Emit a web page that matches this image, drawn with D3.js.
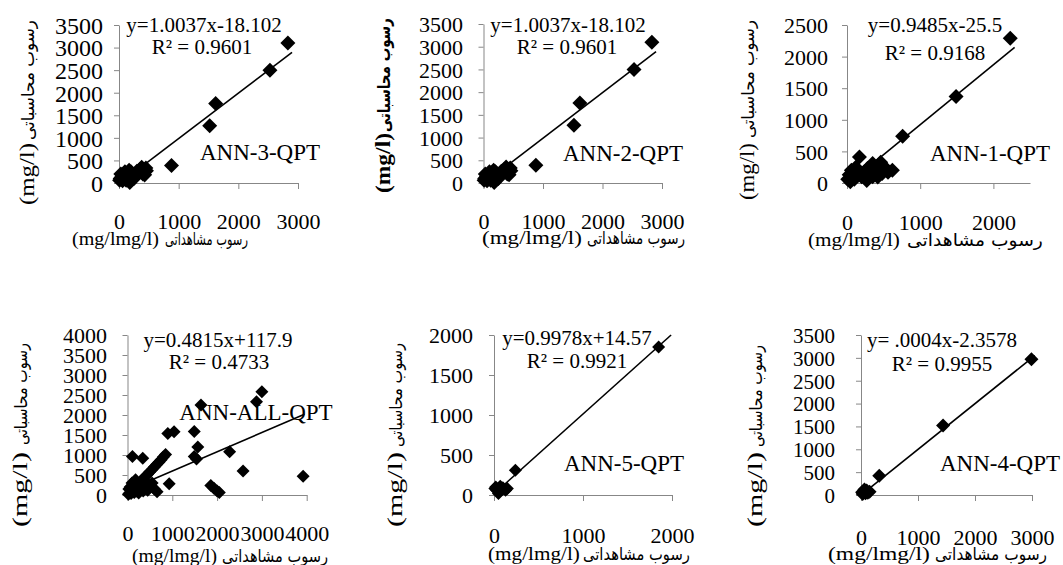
<!DOCTYPE html>
<html><head><meta charset="utf-8">
<script src="https://cdn.jsdelivr.net/npm/d3@7"></script>
<style>
body{margin:0;background:#fff;}
svg{display:block;}
text{font-family:"Liberation Serif","Times New Roman","DejaVu Sans",serif;fill:#000;}
.ar{font-family:"DejaVu Sans",sans-serif;}
</style></head><body>
<svg id="c" width="1063" height="565"></svg>
<script>
// ---------- data ----------
const panelNames = ["ANN-3-QPT","ANN-2-QPT","ANN-1-QPT","ANN-ALL-QPT","ANN-5-QPT","ANN-4-QPT"];
const equationLabels = ["y=1.0037x-18.102","y=1.0037x-18.102","y=0.9485x-25.5","y=0.4815x+117.9","y=0.9978x+14.57","y= .0004x-2.3578"];
const r2Labels = ["R² = 0.9601","R² = 0.9601","R² = 0.9168","R² = 0.4733","R² = 0.9921","R² = 0.9955"];
const slopes = [1.0037,1.0037,0.9485,0.4815,0.9978,1.0004];
const intercepts = [-18.102,-18.102,-25.5,117.9,14.57,-2.3578];
const trendFrom = [0,0,0,0,0,0];
const trendTo = [2900,2900,2290,3950,1990,3050];
const xMaxima = [3000,3000,2500,4000,2000,3000];
const yMaxima = [3500,3500,2500,4000,2000,3500];
const xTickValues = [[0,1000,2000,3000],[0,1000,2000,3000],[0,1000,2000],[0,1000,2000,3000,4000],[0,1000,2000],[0,1000,2000,3000]];
const yTickValues = [
  [0,500,1000,1500,2000,2500,3000,3500],
  [0,500,1000,1500,2000,2500,3000,3500],
  [0,500,1000,1500,2000,2500],
  [0,500,1000,1500,2000,2500,3000,3500,4000],
  [0,500,1000,1500,2000],
  [0,500,1000,1500,2000,2500,3000,3500]];
const xTitleUnit = "(mg/lmg/l)";
const xTitleWords = "رسوب مشاهداتی";
const yTitleUnit = "(mg/l)";
const yTitleWords = "رسوب محاسباتی";

// observed (x) and computed (y) sediment values
const ann3Observed = [2830,2530,1620,1520,880,420,450,380,350,400,460,430,20,50,80,100,150,200,120,180,250,60,30,200,100,300,320,170,10];
const ann3Computed = [3100,2500,1760,1270,390,290,330,350,300,200,270,180,100,150,200,250,180,250,60,10,100,50,200,150,120,260,220,280,60];
const ann2Observed = [2830,2530,1620,1520,880,420,450,380,350,400,460,430,20,50,80,100,150,200,120,180,250,60,30,200,100,300,320,170,10];
const ann2Computed = [3100,2500,1760,1270,390,290,330,350,300,200,270,180,100,150,200,250,180,250,60,10,100,50,200,150,120,260,220,280,60];
const ann1Observed = [2230,1490,760,170,350,460,420,620,480,420,270,30,45,150,60,280,350,100,200,520,120,400,10,80,240,560];
const ann1Computed = [2290,1370,740,410,310,330,270,200,150,95,40,130,20,150,200,230,100,60,100,240,250,180,60,110,180,170];
const annAllObserved = [3000,2880,1640,900,1040,1490,1570,1490,1540,2280,2580,3920,1860,1930,2000,2050,930,110,340,
  50,100,150,200,250,300,350,400,450,500,550,600,650,700,750,800,850,
  20,80,150,200,300,400,500,250,350,100,60,450,180,120,30,600,550,660];
const annAllComputed = [2580,2330,2250,1540,1580,1590,1200,960,900,1080,600,470,240,170,100,60,280,960,920,
  50,120,180,230,290,350,400,470,520,580,640,700,760,820,880,950,1010,
  20,40,60,100,150,200,250,50,100,300,200,120,380,250,150,150,300,80];
const ann5Observed = [1850,240,10,30,60,90,130,50,100,20,150,70];
const ann5Computed = [1850,310,80,60,40,70,60,20,90,100,80,110];
const ann4Observed = [2990,1440,320,20,50,80,100,120,60,30,150];
const ann4Computed = [2970,1520,420,60,80,40,100,50,120,20,70];

const observedSets = [ann3Observed,ann2Observed,ann1Observed,annAllObserved,ann5Observed,ann4Observed];
const computedSets = [ann3Computed,ann2Computed,ann1Computed,annAllComputed,ann5Computed,ann4Computed];

// ---------- layout ----------
const layout = [
  {x0:119,x1:298,yT:25,yB:183,yLabR:103,yLabFs:24,xLabY:221,
   xtL:[72,159],xtA:[165,248],xtY:238, ytX:27,ytL:[205,143],ytA:[140,20],bold:false,
   eq:[204,25],r2:[202,47],nm:[260,152],ms:15},
  {x0:483.5,x1:662,yT:24,yB:183,yLabR:463,yLabFs:22,xLabY:221,
   xtL:[482,582],xtA:[587,685],xtY:237, ytX:383,ytL:[193,133],ytA:[132,18],bold:true,
   eq:[568,25],r2:[567,47],nm:[623,153],ms:15},
  {x0:847,x1:1030,yT:25,yB:183,yLabR:828,yLabFs:22,xLabY:222,
   xtL:[808,900],xtA:[907,1043],xtY:239, ytX:747,ytL:[200,143],ytA:[138,20],bold:false,
   eq:[935,25],r2:[935,53],nm:[990,153],ms:15},
  {x0:127.5,x1:306.7,yT:335,yB:495,yLabR:107,yLabFs:22,xLabY:533,
   xtL:[132,217],xtA:[222,328],xtY:555, ytX:20,ytL:[527,452],ytA:[445,343],bold:false,
   eq:[218,340],r2:[219,362],nm:[256,412],ms:13},
  {x0:494,x1:672,yT:335,yB:495,yLabR:473,yLabFs:22,xLabY:535,
   xtL:[488,580],xtA:[583,690],xtY:553, ytX:395,ytL:[527,452],ytA:[447,343],bold:false,
   eq:[577,338],r2:[577,361],nm:[624,463],ms:13},
  {x0:861,x1:1032,yT:335,yB:495,yLabR:835,yLabFs:21,xLabY:537,
   xtL:[828,930],xtA:[935,1047],xtY:553, ytX:755,ytL:[527,452],ytA:[447,345],bold:false,
   eq:[942,340],r2:[942,364],nm:[1000,463],ms:14}
];

const svg = d3.select("#c");
const axisColor = "#878787";

// fit a text element horizontally into a box by scaling x
function fitH(sel, x0, x1, y) {
  const w = sel.node().getComputedTextLength();
  const s = (x1 - x0) / w;
  sel.attr("transform", `translate(${x0},${y}) scale(${s},1)`);
}
function fitV(sel, x, yBottom, yTop) {
  const w = sel.node().getComputedTextLength();
  const s = (yBottom - yTop) / w;
  sel.attr("transform", `translate(${x},${yBottom}) rotate(-90) scale(${s},1)`);
}

layout.forEach((L, i) => {
  const g = svg.append("g");
  const x = d3.scaleLinear().domain([0, xMaxima[i]]).range([L.x0, L.x1]);
  const y = d3.scaleLinear().domain([0, yMaxima[i]]).range([L.yB, L.yT]);
  const fmt = d3.format("d");

  // y axis
  const ya = g.append("g").attr("transform", `translate(${L.x0},0)`)
    .call(d3.axisLeft(y).tickValues(yTickValues[i]).tickFormat(fmt).tickSize(5).tickSizeOuter(0));
  ya.select(".domain").attr("stroke", axisColor);
  ya.selectAll(".tick line").attr("stroke", axisColor);
  ya.selectAll(".tick text").attr("x", L.yLabR - L.x0).attr("dy", "0.35em")
    .attr("text-anchor", "end").style("font-size", L.yLabFs + "px")
    .style("font-family", '"Liberation Serif",serif').attr("fill", "#000");

  // x axis
  const xa = g.append("g").attr("transform", `translate(0,${L.yB})`)
    .call(d3.axisBottom(x).tickValues(xTickValues[i]).tickFormat(fmt).tickSize(6).tickSizeOuter(0));
  xa.select(".domain").attr("stroke", axisColor);
  xa.selectAll(".tick line").attr("stroke", axisColor);
  xa.selectAll(".tick text").attr("y", L.xLabY - L.yB).attr("dy", "0.35em")
    .style("font-size", "22px").style("font-family", '"Liberation Serif",serif').attr("fill", "#000");

  // trendline
  const tx = [trendFrom[i], trendTo[i]];
  g.append("line")
    .attr("x1", x(tx[0])).attr("y1", y(slopes[i]*tx[0] + intercepts[i]))
    .attr("x2", x(tx[1])).attr("y2", y(slopes[i]*tx[1] + intercepts[i]))
    .attr("stroke", "#000").attr("stroke-width", 1.6);

  // points
  const pts = observedSets[i].map((v, k) => [v, computedSets[i][k]]);
  const side = L.ms / Math.SQRT2;
  g.selectAll("path.pt").data(pts).enter().append("path")
    .attr("class", "pt")
    .attr("d", d3.symbol().type(d3.symbolSquare).size(side*side))
    .attr("transform", d => `translate(${x(d[0])},${y(d[1])}) rotate(45)`)
    .attr("fill", "#000");

  // equation, r2, name
  g.append("text").attr("x", L.eq[0]).attr("y", L.eq[1]).attr("dy", "0.35em")
    .attr("text-anchor", "middle").style("font-size", "21px").text(equationLabels[i]);
  g.append("text").attr("x", L.r2[0]).attr("y", L.r2[1]).attr("dy", "0.35em")
    .attr("text-anchor", "middle").style("font-size", "21px").text(r2Labels[i]);
  g.append("text").attr("x", L.nm[0]).attr("y", L.nm[1]).attr("dy", "0.35em")
    .attr("text-anchor", "middle").style("font-size", "23px").text(panelNames[i]);

  // x axis title (unit part + Persian words)
  const xu = g.append("text").attr("dy", "0.35em").style("font-size", "19px").text(xTitleUnit);
  fitH(xu, L.xtL[0], L.xtL[1], L.xtY);
  const xw = g.append("text").attr("class", "ar").attr("dy", "0.35em").style("font-size", "17px").text(xTitleWords);
  fitH(xw, L.xtA[0], L.xtA[1], L.xtY + 1);

  // y axis title
  const yu = g.append("text").attr("dy", "0.35em").style("font-size", "21px")
    .style("font-weight", L.bold ? "bold" : "normal").text(yTitleUnit);
  fitV(yu, L.ytX, L.ytL[0], L.ytL[1]);
  const yw = g.append("text").attr("class", "ar").attr("dy", "0.35em").style("font-size", "17px")
    .style("font-weight", L.bold ? "bold" : "normal").text(yTitleWords);
  fitV(yw, L.ytX + 1, L.ytA[0], L.ytA[1]);
});
</script>
</body></html>
